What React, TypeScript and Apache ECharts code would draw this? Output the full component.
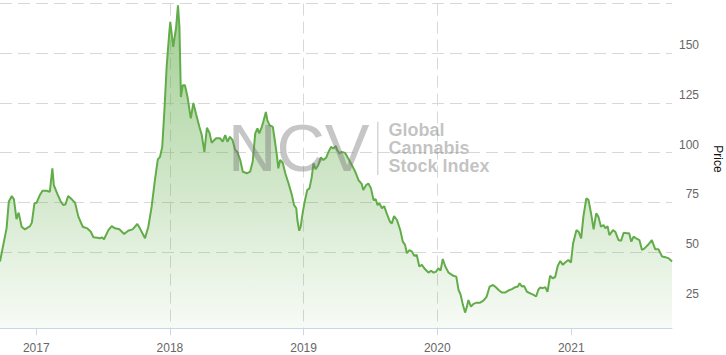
import React, { useEffect, useRef } from 'react';
import * as echarts from 'echarts';

// Weekly-ish closing values of the Global Cannabis Stock Index
const dates: string[] = [
  '2016-09-24', '2016-10-12', '2016-10-18', '2016-10-26', '2016-11-01', '2016-11-08', '2016-11-14', '2016-11-22', '2016-12-01', '2016-12-15', '2016-12-20', '2016-12-27',
  '2017-01-02', '2017-01-11', '2017-01-18', '2017-01-29', '2017-02-07', '2017-02-14', '2017-02-18', '2017-02-27', '2017-03-09', '2017-03-16', '2017-03-22', '2017-03-29', '2017-04-08', '2017-04-17', '2017-04-26', '2017-05-08', '2017-05-20', '2017-05-30', '2017-06-06', '2017-06-17', '2017-06-24', '2017-06-29', '2017-07-05', '2017-07-17', '2017-07-26', '2017-08-04', '2017-08-16', '2017-08-29', '2017-09-09', '2017-09-21', '2017-10-04', '2017-10-11', '2017-10-25', '2017-11-03', '2017-11-12', '2017-11-21', '2017-11-29', '2017-12-05', '2017-12-11', '2017-12-17', '2017-12-23', '2017-12-30',
  '2018-01-02', '2018-01-10', '2018-01-18', '2018-01-23', '2018-01-27', '2018-01-31', '2018-02-05', '2018-02-11', '2018-02-18', '2018-02-27', '2018-03-06', '2018-03-13', '2018-03-22', '2018-03-29', '2018-04-05', '2018-04-12', '2018-04-19', '2018-04-25', '2018-05-07', '2018-05-18', '2018-05-25', '2018-06-01', '2018-06-07', '2018-06-14', '2018-06-21', '2018-06-28', '2018-07-04', '2018-07-12', '2018-07-19', '2018-07-30', '2018-08-08', '2018-08-15', '2018-08-22', '2018-08-28', '2018-09-02', '2018-09-09', '2018-09-13', '2018-09-20', '2018-09-24', '2018-09-30', '2018-10-09', '2018-10-13', '2018-10-20', '2018-10-24', '2018-10-29', '2018-11-05', '2018-11-12', '2018-11-21', '2018-11-30', '2018-12-06', '2018-12-12', '2018-12-15', '2018-12-20', '2018-12-24', '2018-12-30',
  '2019-01-05', '2019-01-11', '2019-01-17', '2019-01-23', '2019-01-28', '2019-02-03', '2019-02-10', '2019-02-17', '2019-02-24', '2019-03-04', '2019-03-10', '2019-03-17', '2019-03-23', '2019-03-30', '2019-04-03', '2019-04-09', '2019-04-15', '2019-04-24', '2019-05-03', '2019-05-13', '2019-05-22', '2019-05-31', '2019-06-09', '2019-06-13', '2019-06-21', '2019-06-27', '2019-07-04', '2019-07-11', '2019-07-17', '2019-07-22', '2019-07-27', '2019-08-03', '2019-08-09', '2019-08-16', '2019-08-25', '2019-08-30', '2019-09-05', '2019-09-13', '2019-09-22', '2019-09-29', '2019-10-05', '2019-10-10', '2019-10-17', '2019-10-24', '2019-10-30', '2019-11-06', '2019-11-13', '2019-11-20', '2019-11-29', '2019-12-08', '2019-12-15', '2019-12-22', '2019-12-29',
  '2020-01-04', '2020-01-10', '2020-01-16', '2020-01-23', '2020-02-01', '2020-02-14', '2020-02-22', '2020-02-28', '2020-03-05', '2020-03-11', '2020-03-17', '2020-03-22', '2020-03-26', '2020-04-02', '2020-04-09', '2020-04-18', '2020-04-27', '2020-05-06', '2020-05-15', '2020-05-23', '2020-06-01', '2020-06-07', '2020-06-16', '2020-06-25', '2020-07-04', '2020-07-13', '2020-07-23', '2020-08-01', '2020-08-08', '2020-08-13', '2020-08-19', '2020-08-25', '2020-09-02', '2020-09-11', '2020-09-20', '2020-09-27', '2020-10-03', '2020-10-08', '2020-10-15', '2020-10-22', '2020-10-28', '2020-11-04', '2020-11-11', '2020-11-18', '2020-11-25', '2020-12-02', '2020-12-09', '2020-12-15', '2020-12-24', '2020-12-31',
  '2021-01-06', '2021-01-15', '2021-01-21', '2021-01-28', '2021-02-03', '2021-02-11', '2021-02-17', '2021-02-24', '2021-03-03', '2021-03-10', '2021-03-16', '2021-03-23', '2021-03-30', '2021-04-04', '2021-04-10', '2021-04-15', '2021-04-25', '2021-05-01', '2021-05-10', '2021-05-17', '2021-05-24', '2021-06-02', '2021-06-08', '2021-06-14', '2021-06-20', '2021-06-27', '2021-07-06', '2021-07-13', '2021-07-20', '2021-07-29', '2021-08-09', '2021-08-18', '2021-08-27', '2021-09-06', '2021-09-15', '2021-09-24', '2021-10-03',
];

const prices: number[] = [
  45.2, 62, 75.3, 78.2, 76.5, 66.5, 69.8, 62.7, 61.4, 63, 64.8, 74.5,
  74.8, 78.7, 80.8, 80.8, 80.3, 92.1, 83.7, 79.5, 75.3, 73.6, 74, 78.2, 76.5, 74.8, 67.8, 62.7, 61.9, 60.2, 57.4, 57.2, 56.9, 57.4, 56.4, 61, 63, 61.9, 61.4, 59.1, 60.7, 61.4, 64.1, 61.9, 56.9, 62.7, 72.7, 86.2, 96.6, 97.9, 102.9, 121.4, 143.1, 159.9,
  165.8, 153.2, 163.2, 174.1, 163.2, 128, 133.9, 133.9, 128, 117.2, 125, 119.7, 113.3, 108.8, 100.4, 112.5, 110, 105, 107.2, 107.2, 105.5, 108.8, 105.5, 108, 106.3, 101.3, 100.4, 96.3, 90.4, 89.6, 90.4, 95.4, 109.7, 112.2, 109.7, 113, 115.5, 120.5, 116.4, 113.8, 113, 108, 98.8, 92.1, 96.3, 94.9, 89.6, 84.5, 78.7, 73.6, 72, 66.1, 60.7, 62.7, 70.3,
  76.2, 81.2, 82, 87.4, 94.6, 91.6, 93.7, 97.6, 96.3, 97.6, 100.4, 102.9, 102.1, 103.3, 101.3, 99.6, 100.4, 99.9, 97.1, 93.7, 90.4, 86.2, 84.1, 81.2, 83.7, 84.5, 82, 76.2, 76.5, 73.6, 74.5, 72, 73.1, 69.4, 65.2, 64.4, 68.1, 66.1, 61, 55.2, 53.6, 49.4, 51, 50.2, 48.1, 48.5, 42.7, 43.5, 41.3, 39.6, 40.6, 39.6, 40.1,
  41.8, 40.6, 46.5, 42.7, 39.6, 38, 37.6, 31, 28.4, 23.4, 19.5, 22.5, 25.8, 22.5, 23.9, 24.5, 24.5, 25.5, 27.6, 32.6, 33.4, 32.6, 31, 29.6, 29.6, 30.6, 31.3, 32.3, 32.6, 34.3, 32.6, 32.9, 30, 29.2, 28.4, 27.6, 31, 32.1, 31.8, 32.3, 30, 38, 36.8, 37.4, 43, 45.5, 43.5, 44.7, 46, 44.7,
  54.4, 61, 60.2, 56.9, 67.8, 77, 76.2, 69.4, 61.4, 69.4, 67.8, 62.7, 63.6, 61.9, 63, 58.5, 61, 60.2, 56, 55.7, 59.7, 59.4, 59.4, 55.2, 57.7, 56.9, 56, 51, 51.8, 53.5, 56, 51.4, 51.4, 47.7, 47.4, 46.8, 45.2,
];

const yearTicks: number[] = [2017, 2018, 2019, 2020, 2021];
const priceTicks: number[] = [25, 50, 75, 100, 125, 150, 175];
const priceLabels: number[] = [25, 50, 75, 100, 125, 150];
const watermarkLines: string[] = ['Global', 'Cannabis', 'Stock Index'];

const FONT = '"Liberation Sans", Arial, Helvetica, sans-serif';

export default function App() {
  const ref = useRef<HTMLDivElement>(null);

  useEffect(() => {
    if (!ref.current) return;
    const chart = echarts.init(ref.current, null, { renderer: 'svg' });
    const toTime = (d: string) => Date.parse(d); // date-only strings are UTC
    const yearValues = yearTicks.map((y) => Date.UTC(y, 0, 1));
    const gridColor = '#d8d8d8';
    const markFill = 'rgba(120,120,120,0.45)';

    chart.setOption({
      animation: false,
      backgroundColor: '#ffffff',
      grid: {
        left: 0,
        right: 54,
        top: 3.6,
        bottom: 26.7,
        containLabel: false,
        outerBoundsMode: 'none',
      },
      xAxis: {
        type: 'value',
        min: toTime(dates[0]),
        max: toTime(dates[dates.length - 1]),
        axisLine: { show: true, lineStyle: { color: '#ccd6eb', width: 1 } },
        axisTick: { show: true, length: 7, lineStyle: { color: '#ccd6eb' }, customValues: yearValues },
        axisLabel: {
          customValues: yearValues,
          formatter: (v: number) => String(new Date(v).getUTCFullYear()),
          color: '#666666',
          fontSize: 12,
          fontFamily: FONT,
          margin: 14,
        },
        splitLine: {
          show: true,
          showMinLine: false,
          showMaxLine: false,
          lineStyle: { color: gridColor, width: 1, type: [12, 6] },
        },
      },
      yAxis: {
        type: 'value',
        position: 'right',
        min: 11.6,
        max: 175,
        axisLine: { show: false },
        axisTick: { show: false, customValues: priceTicks },
        axisLabel: {
          customValues: priceLabels,
          formatter: (v: number) => (priceLabels.indexOf(v) >= 0 ? String(v) : ''),
          align: 'right',
          verticalAlign: 'bottom',
          margin: 27,
          padding: [0, 0, 2, 0],
          lineHeight: 12,
          color: '#666666',
          fontSize: 12,
          fontFamily: FONT,
        },
        splitLine: {
          show: true,
          showMinLine: false,
          lineStyle: { color: gridColor, width: 1, type: [12, 6] },
        },
        name: 'Price',
        nameLocation: 'middle',
        nameRotate: -90,
        nameGap: 40,
        nameTextStyle: { color: '#111111', fontSize: 12, fontFamily: FONT, padding: [0, 14, 0, 0] },
      },
      series: [
        {
          type: 'line',
          data: dates.map((d, i) => [toTime(d), prices[i]]),
          showSymbol: false,
          symbol: 'none',
          lineStyle: { color: '#62ad4a', width: 2 },
          itemStyle: { color: '#62ad4a' },
          areaStyle: {
            origin: 'start',
            color: {
              type: 'linear',
              x: 0,
              y: 0,
              x2: 0,
              y2: 1,
              colorStops: [
                { offset: 0, color: 'rgba(98,173,74,0.85)' },
                { offset: 1, color: 'rgba(98,173,74,0.07)' },
              ],
            },
          },
          z: 2,
        },
      ],
      graphic: [
        {
          type: 'text',
          x: 228,
          y: 114.3,
          z: 100,
          silent: true,
          style: {
            text: 'NCV',
            font: `67px ${FONT}`,
            fill: 'rgba(120,120,120,0.42)',
            textVerticalAlign: 'top',
          },
        },
        {
          type: 'rect',
          z: 100,
          silent: true,
          shape: { x: 377, y: 121.7, width: 1.5, height: 53.3 },
          style: { fill: 'rgba(120,120,120,0.3)' },
        },
        ...watermarkLines.map((line, i) => ({
          type: 'text',
          x: 388.5,
          y: 130 + i * 18.2,
          z: 100,
          silent: true,
          style: {
            text: line,
            font: `bold 18px ${FONT}`,
            fill: markFill,
            textVerticalAlign: 'middle',
          },
        })),
      ],
    });

    return () => {
      chart.dispose();
    };
  }, []);

  return (
    <div
      ref={ref}
      style={{ position: 'fixed', left: 0, top: 0, width: 726, height: 355, background: '#fff' }}
    />
  );
}
